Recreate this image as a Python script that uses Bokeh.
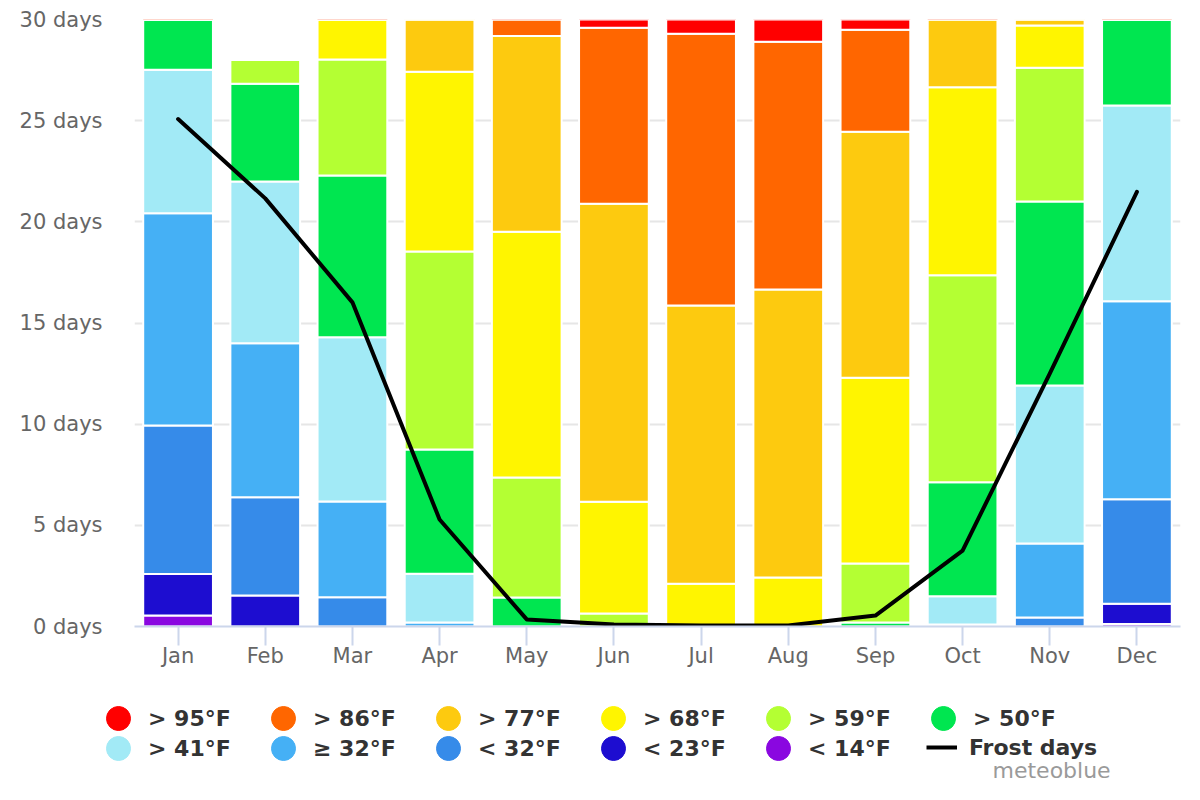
from bokeh.plotting import figure
from bokeh.models import ColumnDataSource, Range1d, FixedTicker, Legend, LegendItem, Label
from bokeh.embed import file_html
from bokeh.resources import INLINE

months = ["Jan", "Feb", "Mar", "Apr", "May", "Jun", "Jul", "Aug", "Sep", "Oct", "Nov", "Dec"]

# days per month in each max-temperature class (bottom -> top of stack)
lt14 = [0.54, 0.00, 0.00, 0.00, 0.00, 0.00, 0.00, 0.00, 0.00, 0.00, 0.00, 0.12]
lt23 = [2.06, 1.53, 0.00, 0.00, 0.00, 0.00, 0.00, 0.00, 0.00, 0.00, 0.00, 1.00]
lt32 = [7.33, 4.86, 1.45, 0.00, 0.00, 0.00, 0.00, 0.00, 0.00, 0.00, 0.44, 5.17]
ge32 = [10.49, 7.61, 4.73, 0.20, 0.00, 0.00, 0.00, 0.00, 0.00, 0.10, 3.66, 9.78]
gt41 = [7.10, 7.99, 8.12, 2.41, 0.00, 0.00, 0.00, 0.00, 0.00, 1.40, 7.81, 9.68]
gt50 = [3.48, 4.84, 7.99, 6.14, 1.43, 0.00, 0.00, 0.00, 0.20, 5.63, 9.09, 5.25]
gt59 = [0.00, 1.17, 5.73, 9.78, 5.94, 0.64, 0.00, 0.00, 2.91, 10.23, 6.62, 0.00]
gt68 = [0.00, 0.00, 2.98, 8.89, 12.14, 5.53, 2.11, 2.42, 9.19, 9.29, 2.08, 0.00]
gt77 = [0.00, 0.00, 0.00, 2.58, 9.68, 14.72, 13.75, 14.23, 12.15, 4.35, 0.30, 0.00]
gt86 = [0.00, 0.00, 0.00, 0.00, 1.81, 8.70, 13.44, 12.25, 5.04, 0.00, 0.00, 0.00]
gt95 = [0.00, 0.00, 0.00, 0.00, 0.00, 0.41, 1.70, 2.10, 0.51, 0.00, 0.00, 0.00]

frost_days = [25.08, 21.16, 16.02, 5.29, 0.35, 0.10, 0.05, 0.05, 0.54, 3.75, 12.50, 21.48]

series_keys = ["lt14", "lt23", "lt32", "ge32", "gt41", "gt50", "gt59", "gt68", "gt77", "gt86", "gt95"]
series_labels = ["< 14°F", "< 23°F", "< 32°F", "≥ 32°F", "> 41°F", "> 50°F",
                 "> 59°F", "> 68°F", "> 77°F", "> 86°F", "> 95°F"]
series_colors = ["#8a07e0", "#1d0dd0", "#368be9", "#45b0f5", "#a2eaf6", "#00e650",
                 "#b4ff33", "#fff500", "#fdca0f", "#ff6600", "#ff0000"]

y_ticks = [0, 5, 10, 15, 20, 25, 30]
y_tick_labels = ["0 days", "5 days", "10 days", "15 days", "20 days", "25 days", "30 days"]

data = dict(month=months, lt14=lt14, lt23=lt23, lt32=lt32, ge32=ge32, gt41=gt41, gt50=gt50,
            gt59=gt59, gt68=gt68, gt77=gt77, gt86=gt86, gt95=gt95, frost=frost_days)
source = ColumnDataSource(data)

FONT = "DejaVu Sans"

p = figure(x_range=months, y_range=Range1d(0, 30), width=1200, height=680,
           output_backend="svg", toolbar_location=None,
           min_border_left=134, min_border_right=20, min_border_top=19, min_border_bottom=54)
p.outline_line_color = None

p.vbar_stack(series_keys, x="month", width=0.8, color=series_colors, source=source,
             line_color="white", line_width=2)

p.line(x="month", y="frost", source=source, line_color="black", line_width=4,
       line_join="round", line_cap="round")

# axes
p.xgrid.grid_line_color = None
p.ygrid.grid_line_color = "#e6e6e6"
p.ygrid.grid_line_width = 2
p.yaxis.ticker = FixedTicker(ticks=y_ticks)
p.yaxis.major_label_overrides = {t: l for t, l in zip(y_ticks, y_tick_labels)}
p.yaxis.axis_line_color = None
p.yaxis.major_tick_line_color = None
p.yaxis.minor_tick_line_color = None
p.yaxis.major_tick_out = 0
p.yaxis.major_label_standoff = 32
p.yaxis.major_label_text_font = FONT
p.yaxis.major_label_text_font_size = "21px"
p.yaxis.major_label_text_color = "#666666"

p.xaxis.axis_line_color = "#ccd6eb"
p.xaxis.axis_line_width = 2
p.xaxis.major_tick_line_color = "#ccd6eb"
p.xaxis.major_tick_line_width = 2
p.xaxis.major_tick_out = 19
p.xaxis.major_tick_in = 0
p.xaxis.major_label_standoff = -2
p.xaxis.major_label_text_font = FONT
p.xaxis.major_label_text_font_size = "21px"
p.xaxis.major_label_text_color = "#666666"

# ---- legend panel (separate canvas below the chart) ----
leg = figure(width=1200, height=110, x_range=Range1d(0, 1200), y_range=Range1d(0, 110),
             output_backend="svg", toolbar_location=None,
             min_border_left=0, min_border_right=0, min_border_top=0, min_border_bottom=0)
leg.axis.visible = False
leg.grid.visible = False
leg.outline_line_color = None

nan = float("nan")
dots = {}
for key, col in zip(series_keys, series_colors):
    dots[key] = leg.scatter(x=[nan], y=[nan], marker="circle", fill_color=col, line_color=col)
frost_dummy = leg.line(x=[nan, nan], y=[nan, nan], line_color="black", line_width=4)

def make_legend(items, loc, gw, gh, standoff, lw):
    lg = Legend(items=items, location=loc, orientation="horizontal",
                glyph_width=gw, glyph_height=gh, label_standoff=standoff,
                label_width=lw, label_height=20, spacing=0, padding=0, margin=0,
                border_line_color=None, background_fill_alpha=0,
                label_text_font=FONT, label_text_font_style="bold",
                label_text_font_size="22px", label_text_color="#333333")
    leg.add_layout(lg, "center")
    return lg

row1 = ["gt95", "gt86", "gt77", "gt68", "gt59", "gt50"]
row2 = ["gt41", "ge32", "lt32", "lt23", "lt14"]
lab = dict(zip(series_keys, series_labels))
make_legend([LegendItem(label=lab[k], renderers=[dots[k]]) for k in row1], (88, 42), 60, 60, 0, 105)
make_legend([LegendItem(label=lab[k], renderers=[dots[k]]) for k in row2], (88, 12), 60, 60, 0, 105)
make_legend([LegendItem(label="Frost days", renderers=[frost_dummy])], (926, 28), 31, 30, 12, 20)

leg.add_layout(Label(x=992, y=20, x_units="screen", y_units="screen", text="meteoblue",
                     text_font=FONT, text_font_size="22px", text_color="#9a9a9a",
                     text_baseline="middle", text_align="left"))

open("out.html", "w").write(file_html([p, leg], INLINE))
